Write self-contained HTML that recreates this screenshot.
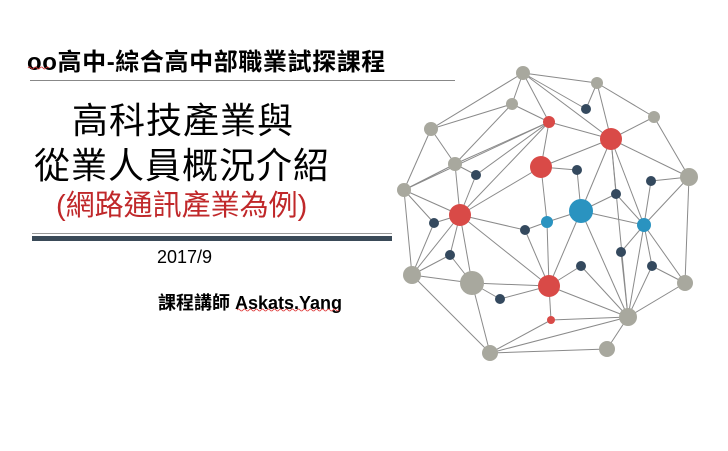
<!DOCTYPE html>
<html><head><meta charset="utf-8"><style>
html,body{margin:0;padding:0;background:#fff;width:728px;height:451px;overflow:hidden;position:relative}
.t{position:absolute;white-space:nowrap;font-family:"Liberation Sans","Noto Sans CJK TC",sans-serif;color:#000}
</style></head><body>
<div class="t" style="left:27px;top:42px;font-size:24px;font-weight:bold;letter-spacing:0.6px">oo高中-綜合高中部職業試探課程</div>
<div style="position:absolute;left:30px;top:80px;width:425px;height:1px;background:#888"></div>
<div class="t" style="left:72px;top:92px;font-size:36px;letter-spacing:1px">高科技產業與</div>
<div class="t" style="left:34px;top:137px;font-size:36px;letter-spacing:1px">從業人員概況介紹</div>
<div class="t" style="left:56px;top:182px;font-size:29px;color:#c0282a">(網路通訊產業為例)</div>
<div style="position:absolute;left:32px;top:233px;width:360px;height:1px;background:#999"></div>
<div style="position:absolute;left:32px;top:236px;width:360px;height:5px;background:#3a4a58"></div>
<div class="t" style="left:157px;top:247px;font-size:18px">2017/9</div>
<div class="t" style="left:158px;top:289px;font-size:18px;font-weight:bold">課程講師 Askats.Yang</div>
<svg width="728" height="451" style="position:absolute;left:0;top:0">
<path d="M28 68 q1.5 -2 3 0 t3 0 t3 0 t3 0 t3 0 t3 0 t3 0" stroke="#d33" fill="none" stroke-width="0.8"/>
<path d="M237 310 q1.5 -2 3 0 t3 0 t3 0 t3 0 t3 0 t3 0 t3 0 t3 0 t3 0 t3 0 t3 0 t3 0 t3 0 t3 0 t3 0 t3 0 t3 0 t3 0 t3 0 t3 0 t3 0 t3 0 t3 0 t3 0 t3 0 t3 0 t3 0 t3 0 t3 0 t3 0 t3 0 t3 0 t3 0 t3 0" stroke="#d33" fill="none" stroke-width="0.8"/>
<g stroke="#8a8a8a" stroke-width="1" id="edges"></g>
<g id="nodes"></g>
</svg>
<script>
var N={A:[523,73,7,'g'],B:[597,83,6,'g'],C:[512,104,6,'g'],D:[431,129,7,'g'],E:[654,117,6,'g'],F:[455,164,7,'g'],G:[404,190,7,'g'],H:[689,177,9,'g'],I:[412,275,9,'g'],J:[472,283,12,'g'],K:[685,283,8,'g'],L:[628,317,9,'g'],M:[490,353,8,'g'],Nn:[607,349,8,'g'],
R1:[549,122,6,'r'],R2:[611,139,11,'r'],R3:[541,167,11,'r'],R4:[460,215,11,'r'],R5:[549,286,11,'r'],R6:[551,320,4,'r'],
B1:[581,211,12,'b'],B2:[547,222,6,'b'],B3:[644,225,7,'b'],
n1:[586,109,5,'n'],n2:[476,175,5,'n'],n3:[577,170,5,'n'],n4:[651,181,5,'n'],n5:[616,194,5,'n'],n6:[434,223,5,'n'],n7:[525,230,5,'n'],n8:[450,255,5,'n'],n9:[621,252,5,'n'],n10:[581,266,5,'n'],n11:[652,266,5,'n'],n12:[500,299,5,'n']};
var E="A-B A-C A-R1 A-n1 A-R2 A-D B-n1 B-R2 B-E C-D C-F C-R1 D-F D-G E-R2 E-H R2-H R2-R1 R2-R3 R2-B1 R2-n5 R2-B3 R2-L H-n4 n4-B3 H-B3 H-K K-B3 K-L K-n11 n11-B3 n11-L B3-n9 n9-L B3-L B1-n5 n5-B3 B1-n3 n3-R3 B1-B3 B1-B2 B1-R5 B1-L R3-B2 R3-R4 R3-R1 R1-R4 R1-F R1-G R1-n2 F-n2 n2-R4 F-R4 F-G G-R4 G-n6 G-I R4-n6 R4-n7 R4-n8 R4-I R4-J R4-R5 n7-B2 n7-R5 B2-R5 R5-n10 n10-L R5-J R5-n12 R5-R6 R5-L R6-L R6-M I-J I-M I-n8 n8-J J-M J-n12 M-L M-Nn Nn-L n6-I".split(' ');
var s='';E.forEach(function(e){var p=e.split('-'),a=N[p[0]],b=N[p[1]];s+='<line x1="'+a[0]+'" y1="'+a[1]+'" x2="'+b[0]+'" y2="'+b[1]+'"/>';});
document.getElementById('edges').innerHTML=s;
var c={g:'#a8a89e',r:'#d94a47',b:'#2a93c0',n:'#34495e'},t='';
for(var k in N){var n=N[k];t+='<circle cx="'+n[0]+'" cy="'+n[1]+'" r="'+n[2]+'" fill="'+c[n[3]]+'"/>';}
document.getElementById('nodes').innerHTML=t;
</script>
</body></html>
